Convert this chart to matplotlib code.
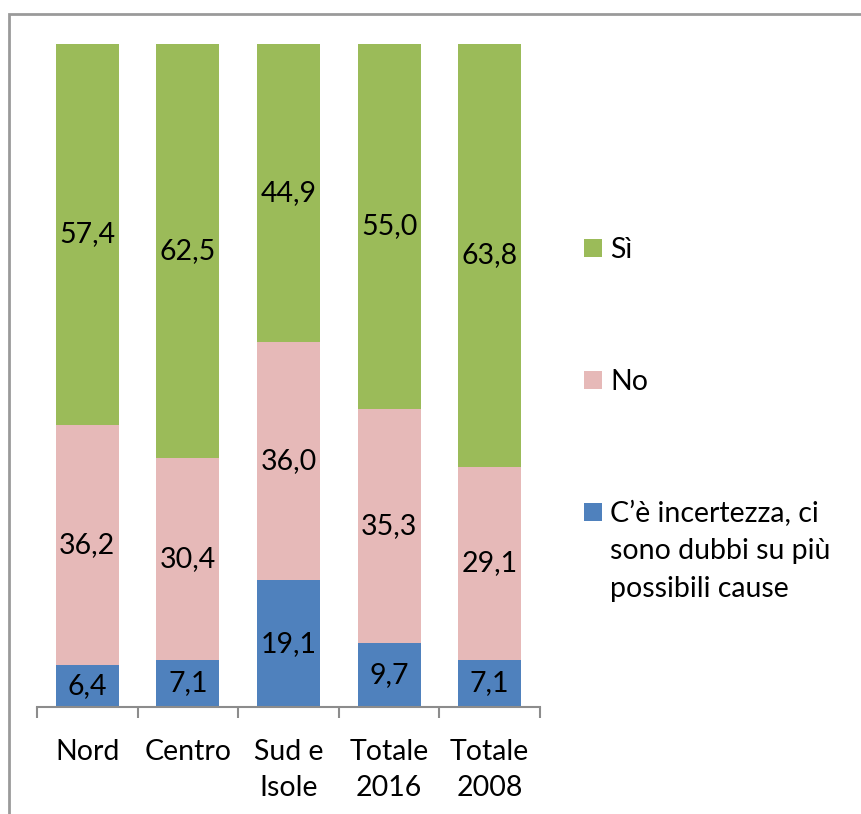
import matplotlib.pyplot as plt
from matplotlib.patches import Rectangle

plt.rcParams['font.family'] = ['Lato', 'DejaVu Sans']

categories = ["Nord", "Centro", "Sud e\nIsole", "Totale\n2016", "Totale\n2008"]
incertezza = [6.4, 7.1, 19.1, 9.7, 7.1]
no_vals = [36.2, 30.4, 36.0, 35.3, 29.1]
si_vals = [57.4, 62.5, 44.9, 55.0, 63.8]

series_names = ["C\u2019\u00e8 incertezza, ci\nsono dubbi su pi\u00f9\npossibili cause", "No", "S\u00ec"]
colors = ["#4F81BD", "#E6B9B8", "#9BBB59"]

W, H = 862, 814
FS = 20.5
fig = plt.figure(figsize=(W / 100, H / 100), dpi=100)

# chart border (right and bottom edges fall outside the picture)
fig.patches.append(Rectangle((9 / W, -0.1), 1.2, (H - 14) / H + 0.1, transform=fig.transFigure,
                             fill=False, edgecolor="#9a9a9a", linewidth=2))

ax = fig.add_axes([37 / W, (H - 707) / H, (540 - 37) / W, (707 - 44) / H])

x = list(range(len(categories)))
bottom = [0] * len(categories)
for vals, col in zip([incertezza, no_vals, si_vals], colors):
    bars = ax.bar(x, vals, width=0.625, bottom=bottom, color=col, linewidth=0)
    for i, v in enumerate(vals):
        ax.text(i, bottom[i] + v / 2, f"{v:.1f}".replace(".", ","),
                ha="center", va="center", fontsize=FS, color="black")
    bottom = [b + v for b, v in zip(bottom, vals)]

ax.set_xlim(-0.5, 4.5)
ax.set_ylim(0, 100)
for side in ["top", "right", "left"]:
    ax.spines[side].set_visible(False)
ax.spines["bottom"].set_color("#8c8c8c")
ax.spines["bottom"].set_linewidth(1.5)
ax.set_yticks([])
ax.set_xticks(x)
ax.set_xticklabels(categories, fontsize=FS, linespacing=1.5)
ax.tick_params(axis="x", which="major", length=0, pad=23)
ax.set_xticks([i - 0.5 for i in range(len(categories) + 1)], minor=True)
ax.tick_params(axis="x", which="minor", length=8, width=1.5, color="#8c8c8c")

# legend
leg_y = [512, 380, 248]
for name, col, yy in zip(series_names, colors, leg_y):
    fig.patches.append(Rectangle((584 / W, (H - yy - 9) / H), 18 / W, 18 / H,
                                 transform=fig.transFigure, facecolor=col, edgecolor="none"))
    fig.text(610 / W, (H - yy) / H + 0.014, name, fontsize=FS, ha="left", va="top",
             linespacing=1.55)

fig.savefig("out.png", dpi=100)
